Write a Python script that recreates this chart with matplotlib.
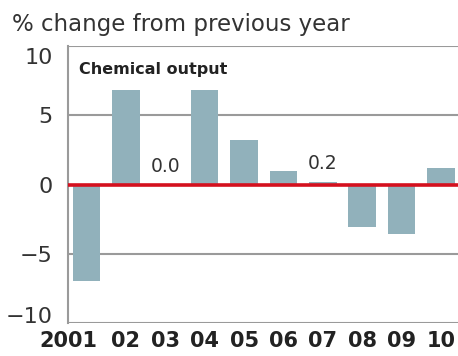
import matplotlib
matplotlib.use("Agg")
import matplotlib.pyplot as plt
import matplotlib.transforms as mtransforms
import numpy as np

years = ["2001", "02", "03", "04", "05", "06", "07", "08", "09", "10"]
values = [-7.0, 6.8, 0.0, 6.8, 3.2, 1.0, 0.2, -3.1, -3.6, 1.2]
value_labels = {2: "0.0", 6: "0.2"}
yticks = [-10, -5, 0, 5, 10]
ytick_labels = ["\u221210", "\u22125", "0", "5", "10"]

plt.rcParams['font.family'] = ['DejaVu Sans']

fig = plt.figure(figsize=(4.58, 3.56), dpi=100)
ax = fig.add_axes([68/458, 1-323/356, 1-68/458, (323-46)/356])

x = np.arange(len(years))
ax.bar(x, values, width=0.7, color="#91b1bb", zorder=2)

ax.set_ylim(-10, 10)
ax.set_xlim(-0.47, 9.43)
for yv in [-10, -5, 5, 10]:
    ax.axhline(yv, color="#9a9a9a", lw=1.5, zorder=1)
ax.axhline(0, color="#d4101e", lw=2.6, zorder=3)

for s in ["top", "right", "bottom"]:
    ax.spines[s].set_visible(False)
ax.spines["left"].set_color("#9a9a9a")
ax.spines["left"].set_linewidth(1.5)

ax.set_yticks(yticks)
ax.set_yticklabels(ytick_labels, fontsize=16, color="#333333")
ax.tick_params(axis="y", length=0, pad=11)
ax.set_xticks(x)
ax.set_xticklabels(years, fontsize=15, fontweight="bold", color="#222222")
ax.tick_params(axis="x", length=0, pad=6)

# shift edge labels to stay inside like the reference
ylabs = ax.get_yticklabels()
ylabs[0].set_transform(ylabs[0].get_transform() +
                       mtransforms.ScaledTranslation(0, 8/100, fig.dpi_scale_trans))
ylabs[-1].set_transform(ylabs[-1].get_transform() +
                        mtransforms.ScaledTranslation(0, -10/100, fig.dpi_scale_trans))
xlabs = ax.get_xticklabels()
xlabs[0].set_transform(xlabs[0].get_transform() +
                       mtransforms.ScaledTranslation(-18/100, 0, fig.dpi_scale_trans))

for i, lab in value_labels.items():
    ax.text(i, max(values[i], 0) + 0.6, lab, ha="center", va="bottom",
            fontsize=13.5, color="#333333", zorder=4)

ax.text(0.028, 0.915, "Chemical output", transform=ax.transAxes, fontsize=11.5,
        fontweight="bold", color="#222222", ha="left", va="center")

fig.text(12/458, 1-25/356, "% change from previous year", fontsize=16.5,
         color="#333333", ha="left", va="center")

fig.savefig("out.png", dpi=100)
